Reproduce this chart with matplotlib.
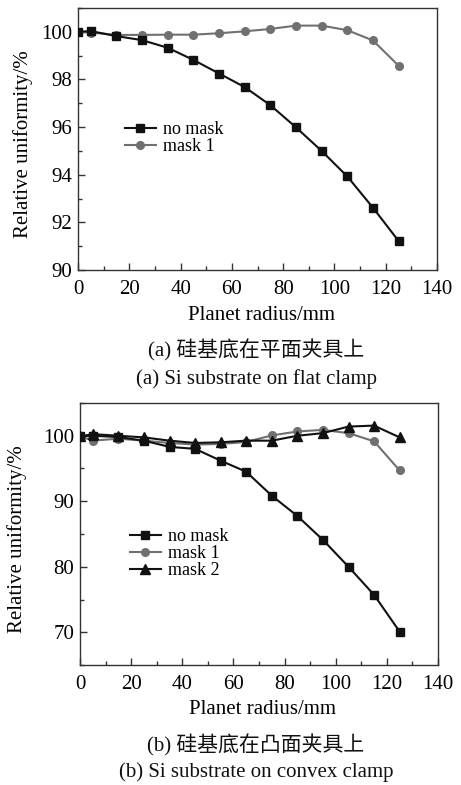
import matplotlib
matplotlib.use("Agg")
import matplotlib.pyplot as plt
from matplotlib.ticker import MultipleLocator

plt.rcParams['font.family'] = ['Liberation Serif', 'Noto Sans CJK SC']
plt.rcParams['mathtext.fontset'] = 'stix'

# ---- data ----
radius = [0, 5, 15, 25, 35, 45, 55, 65, 75, 85, 95, 105, 115, 125]

a_no_mask = [100.0, 100.03, 99.82, 99.65, 99.33, 98.82, 98.25, 97.68, 96.92, 95.99, 95.0, 93.93, 92.62, 91.22]
a_mask1 = [100.0, 99.97, 99.87, 99.87, 99.88, 99.88, 99.94, 100.02, 100.12, 100.26, 100.26, 100.07, 99.64, 98.58]

b_no_mask = [99.9, 100.0, 99.8, 99.25, 98.3, 98.0, 96.2, 94.5, 90.85, 87.75, 84.1, 80.0, 75.7, 70.1]
b_mask1 = [99.9, 99.25, 99.55, 99.25, 98.9, 98.65, 98.75, 99.05, 100.05, 100.65, 100.9, 100.4, 99.15, 94.7]
b_mask2 = [99.9, 100.25, 100.0, 99.75, 99.25, 98.9, 99.0, 99.25, 99.25, 100.0, 100.4, 101.4, 101.55, 99.75]

labels_a = ['no mask', 'mask 1']
labels_b = ['no mask', 'mask 1', 'mask 2']
xlabel = 'Planet radius/mm'
ylabel = 'Relative uniformity/%'
cap_a_cn = '(a) 硅基底在平面夹具上'
cap_a_en = '(a) Si substrate on flat clamp'
cap_b_cn = '(b) 硅基底在凸面夹具上'
cap_b_en = '(b) Si substrate on convex clamp'

W, H = 461, 785
fig = plt.figure(figsize=(W / 100, H / 100), dpi=100)

def px_axes(l, t, r, b):
    return fig.add_axes([l / W, 1 - b / H, (r - l) / W, (b - t) / H])

ax1 = px_axes(78, 8, 437, 270)
ax2 = px_axes(80, 403, 438, 665)

black = '#111111'
gray = '#707070'
fs = 15

def style(ax):
    for s in ax.spines.values():
        s.set_color('#333333')
        s.set_linewidth(1.0)
    ax.tick_params(which='both', direction='in', top=False, right=False, labelsize=fs, color='#333333')
    ax.tick_params(which='major', length=5, width=1)
    ax.tick_params(which='minor', length=3, width=1)
    ax.tick_params(axis='x', pad=7)
    ax.tick_params(axis='y', pad=4)
    ax.set_xlim(0, 140)
    ax.xaxis.set_major_locator(MultipleLocator(20))
    ax.xaxis.set_minor_locator(MultipleLocator(10))

ms = 5.5
lw = 1.5

# top
ax1.plot(radius, a_no_mask, color=black, marker='s', ms=ms, lw=lw, label=labels_a[0], zorder=3)
ax1.plot(radius, a_mask1, color=gray, marker='o', ms=ms, lw=lw, label=labels_a[1], zorder=2)
style(ax1)
ax1.set_ylim(90, 101)
ax1.yaxis.set_major_locator(MultipleLocator(2))
ax1.yaxis.set_minor_locator(MultipleLocator(1))
ax1.set_ylabel(ylabel, fontsize=fs)
ax1.yaxis.set_label_coords(-0.125, 0.48)
ax1.set_xlabel(xlabel, fontsize=fs)
ax1.xaxis.set_label_coords(0.51, -0.136)
ax1.legend(loc='upper left', bbox_to_anchor=(125 / W, 1 - 121 / H), bbox_transform=fig.transFigure,
           frameon=False, fontsize=13, borderpad=0, borderaxespad=0, labelspacing=0.0,
           handlelength=1.7, handletextpad=0.4)

# bottom
ax2.plot(radius, b_no_mask, color=black, marker='s', ms=ms, lw=lw, label=labels_b[0], zorder=3)
ax2.plot(radius, b_mask1, color=gray, marker='o', ms=ms, lw=lw, label=labels_b[1], zorder=2)
ax2.plot(radius, b_mask2, color=black, marker='^', ms=ms + 1, lw=lw, label=labels_b[2], zorder=4)
style(ax2)
ax2.set_ylim(65, 105)
ax2.yaxis.set_major_locator(MultipleLocator(10))
ax2.yaxis.set_minor_locator(MultipleLocator(5))
ax2.set_ylabel(ylabel, fontsize=fs)
ax2.yaxis.set_label_coords(-0.148, 0.48)
ax2.set_xlabel(xlabel, fontsize=fs)
ax2.xaxis.set_label_coords(0.51, -0.132)
ax2.legend(loc='upper left', bbox_to_anchor=(130 / W, 1 - 528 / H), bbox_transform=fig.transFigure,
           frameon=False, fontsize=13, borderpad=0, borderaxespad=0, labelspacing=0.0,
           handlelength=1.7, handletextpad=0.4)

# captions
def cap(x, y, s, size=fs):
    fig.text(x / W, 1 - y / H, s, ha='center', va='center', fontsize=size, color='#111111')

cap(256, 350, cap_a_cn)
cap(256, 379, cap_a_en)
cap(256, 745, cap_b_cn)
cap(256, 772, cap_b_en)

fig.savefig('out.png', dpi=100)
